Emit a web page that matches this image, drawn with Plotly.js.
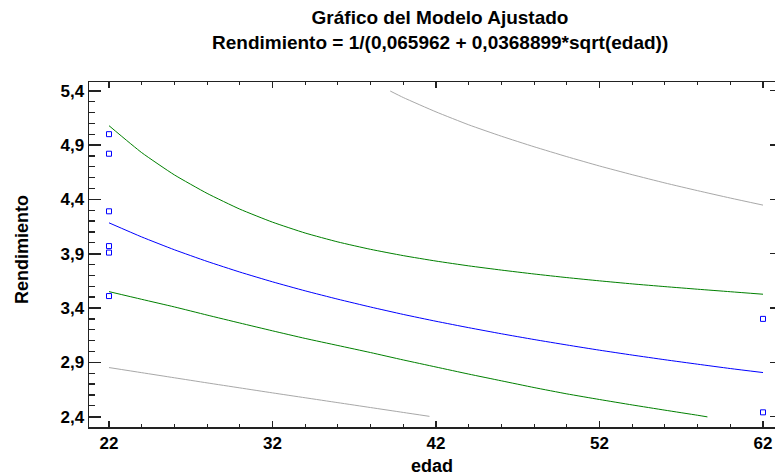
<!DOCTYPE html>
<html>
<head>
<meta charset="utf-8">
<script src="https://cdn.plot.ly/plotly-3.0.1.min.js"></script>
<style>html,body{margin:0;padding:0;background:#fff;}#chart{width:775px;height:476px;}</style>
</head>
<body>
<div id="chart"></div>
<script>
// Observed data
const obsEdad = [22, 22, 22, 22, 22, 22, 62, 62];
const obsRend = [5.00, 4.82, 4.29, 3.97, 3.91, 3.51, 3.30, 2.44];

// Fitted model line
const fitEdad = [22,24,26,28,30,32,34,36,38,40,42,44,46,48,50,52,54,56,58,60,62];
const fitRend = [4.184,4.054,3.936,3.829,3.731,3.641,3.558,3.481,3.409,3.341,3.278,3.219,3.163,3.110,3.060,3.012,2.967,2.924,2.883,2.843,2.806];

// Confidence limits (green)
const confUpEdad = [22,24,26,28,30,32,34,36,38,40,42,44,46,48,50,52,54,56,58,60,62];
const confUpRend = [5.078,4.83,4.625,4.455,4.31,4.19,4.09,4.008,3.94,3.882,3.832,3.788,3.749,3.713,3.68,3.65,3.622,3.597,3.573,3.55,3.527];
const confLoEdad = [22,24,26,28,30,32,34,36,38,40,42,44,46,48,50,52,54,56,58,58.6];
const confLoRend = [3.551,3.48,3.41,3.335,3.262,3.19,3.12,3.055,2.99,2.922,2.857,2.792,2.73,2.668,2.61,2.558,2.508,2.46,2.413,2.398];

// Prediction limits (gray)
const predUpEdad = [39.2,40,42,44,46,48,50,52,54,56,58,60,62];
const predUpRend = [5.397,5.337,5.205,5.086,4.981,4.884,4.793,4.707,4.627,4.551,4.480,4.412,4.347];
const predLoEdad = [22,24,26,28,30,32,34,36,38,40,41.6];
const predLoRend = [2.852,2.805,2.758,2.711,2.665,2.619,2.574,2.529,2.484,2.439,2.403];

// Labels
const titleLine1 = 'Gráfico del Modelo Ajustado';
const titleLine2 = 'Rendimiento = 1/(0,065962 + 0,0368899*sqrt(edad))';
const xTitle = 'edad';
const yTitle = 'Rendimiento';

const FONT = 'Liberation Sans, Arial, sans-serif';
const lineStyle = (c) => ({color: c, width: 1, shape: 'spline', smoothing: 0.5});
const boldFont = (s) => ({family: FONT, size: s, weight: 'bold', color: '#000'});

const traces = [
  {x: predUpEdad, y: predUpRend, mode: 'lines', line: lineStyle('#a8a8a8'), hoverinfo: 'skip'},
  {x: predLoEdad, y: predLoRend, mode: 'lines', line: lineStyle('#a8a8a8'), hoverinfo: 'skip'},
  {x: confUpEdad, y: confUpRend, mode: 'lines', line: lineStyle('#008000')},
  {x: confLoEdad, y: confLoRend, mode: 'lines', line: lineStyle('#008000')},
  {x: fitEdad, y: fitRend, mode: 'lines', line: lineStyle('#0000ff')},
  {x: obsEdad, y: obsRend, mode: 'markers',
   marker: {symbol: 'square-open', size: 5, color: '#0000ff', line: {width: 1, color: '#0000ff'}}},
  // invisible helper for right-side tick axis
  {x: [22], y: [3], yaxis: 'y2', mode: 'markers', marker: {opacity: 0}, hoverinfo: 'skip'}
];

const yRange = [2.305, 5.48];
const plotL = 89, plotR = 775, plotT = 82, plotB = 427;

const layout = {
  width: 775, height: 476,
  margin: {l: plotL, r: 775 - plotR, t: plotT, b: 476 - plotB},
  showlegend: false,
  separators: ', ',
  paper_bgcolor: '#fff', plot_bgcolor: '#fff',
  font: {family: FONT, color: '#000'},
  title: {
    text: titleLine1,
    font: boldFont(19),
    x: 440/775, xref: 'container', xanchor: 'center',
    y: 1 - 17/476, yref: 'container', yanchor: 'middle'
  },
  annotations: [
    {text: titleLine2, font: boldFont(19), showarrow: false,
     xref: 'paper', x: (440 - plotL) / (plotR - plotL), xanchor: 'center',
     yref: 'paper', y: (plotB - 43) / (plotB - plotT), yanchor: 'middle'},
    {text: yTitle, font: boldFont(18), showarrow: false, textangle: -90,
     xref: 'paper', x: (22 - plotL) / (plotR - plotL), xanchor: 'center',
     yref: 'paper', y: (plotB - 250) / (plotB - plotT), yanchor: 'middle'}
  ],
  xaxis: {
    range: [20.777, 62.734],
    tick0: 22, dtick: 10,
    ticks: 'inside', ticklen: 6, tickwidth: 1.5, tickcolor: '#222',
    minor: {dtick: 2, tick0: 22, ticks: 'inside', ticklen: 3, tickwidth: 1, tickcolor: '#222'},
    showline: true, linecolor: '#222', linewidth: 1.5, mirror: 'ticks',
    showgrid: false, zeroline: false,
    tickfont: boldFont(17),
    title: {text: xTitle, font: boldFont(18)}
  },
  yaxis: {
    range: yRange,
    tick0: 2.4, dtick: 0.5,
    ticks: 'inside', ticklen: 12, tickwidth: 1.7, tickcolor: '#222',
    minor: {dtick: 0.1, tick0: 2.4, ticks: 'inside', ticklen: 6, tickwidth: 1.3, tickcolor: '#222'},
    showline: true, linecolor: '#222', linewidth: 1.5,
    showgrid: false, zeroline: false,
    tickfont: boldFont(17)
  },
  yaxis2: {
    overlaying: 'y', side: 'right', range: yRange,
    tick0: 2.4, dtick: 0.5,
    ticks: 'inside', ticklen: 5, tickwidth: 1.5, tickcolor: '#222',
    showticklabels: false, showline: false, showgrid: false, zeroline: false
  }
};

Plotly.newPlot('chart', traces, layout, {staticPlot: true, displayModeBar: false});
</script>
</body>
</html>
